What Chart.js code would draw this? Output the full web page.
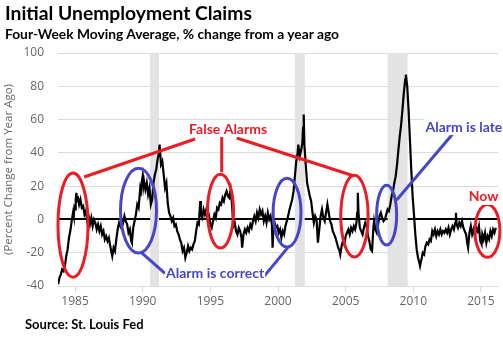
<!DOCTYPE html>
<html>
<head>
  <meta charset="utf-8" />
  <title>Initial Unemployment Claims</title>
  <style>
    body { margin: 0; background: #fff; }
    #wrap { position: relative; width: 503px; height: 341px; overflow: hidden; }
    #chart { position: absolute; left: 0; top: 0; }
    .txt { position: absolute; font-family: Lato, "Open Sans", sans-serif; font-weight: bold; color: #000; white-space: nowrap; }
    .title { left: 5px; top: 1px; font-size: 19.3px; }
    .subtitle { left: 5px; top: 25px; font-size: 13.8px; }
    .source { left: 25px; top: 316px; font-size: 13px; }
  </style>
</head>
<body>
  <div id="wrap">
    <canvas id="chart" width="503" height="341"></canvas>
    <div class="txt title">Initial Unemployment Claims</div>
    <div class="txt subtitle">Four-Week Moving Average, % change from a year ago</div>
    <div class="txt source">Source: St. Louis Fed</div>
  </div>

  <script src="https://cdn.jsdelivr.net/npm/chart.js"></script>
  <script>
    // weeks as decimal years, claims = 4wk avg % change y/y
    const weeks = [
      1983.75,1983.85,1983.95,1984.05,1984.15,1984.25,1984.35,1984.45,1984.55,1984.65,1984.75,1984.85,1984.9,1984.95,1985.0,1985.05,1985.1,1985.15,1985.2,1985.3,
      1985.4,1985.5,1985.6,1985.7,1985.8,1985.9,1986.0,1986.1,1986.2,1986.3,1986.4,1986.5,1986.6,1986.7,1986.8,1986.9,1987.0,1987.1,1987.2,1987.3,
      1987.4,1987.5,1987.6,1987.7,1987.75,1987.85,1987.95,1988.05,1988.15,1988.25,1988.35,1988.45,1988.55,1988.65,1988.75,1988.85,1988.95,1989.05,1989.15,1989.2,
      1989.3,1989.4,1989.5,1989.6,1989.7,1989.8,1989.85,1989.9,1990.0,1990.05,1990.1,1990.2,1990.3,1990.4,1990.5,1990.6,1990.7,1990.8,1990.9,1991.0,
      1991.1,1991.2,1991.25,1991.35,1991.45,1991.55,1991.65,1991.75,1991.85,1991.95,1992.05,1992.15,1992.25,1992.35,1992.45,1992.55,1992.65,1992.75,1992.85,1992.95,
      1993.05,1993.15,1993.25,1993.35,1993.45,1993.55,1993.65,1993.75,1993.85,1993.95,1994.05,1994.15,1994.2,1994.25,1994.3,1994.4,1994.5,1994.6,1994.7,1994.8,
      1994.9,1995.0,1995.1,1995.2,1995.3,1995.4,1995.5,1995.6,1995.7,1995.8,1995.9,1996.0,1996.1,1996.2,1996.3,1996.4,1996.5,1996.6,1996.7,1996.8,
      1996.9,1997.0,1997.1,1997.2,1997.3,1997.35,1997.45,1997.55,1997.65,1997.75,1997.85,1997.95,1998.05,1998.15,1998.25,1998.35,1998.45,1998.55,1998.65,1998.75,
      1998.85,1998.95,1999.05,1999.15,1999.25,1999.35,1999.45,1999.55,1999.6,1999.65,1999.75,1999.85,1999.95,2000.05,2000.15,2000.25,2000.35,2000.45,2000.55,2000.65,
      2000.75,2000.85,2000.95,2001.05,2001.15,2001.25,2001.35,2001.45,2001.5,2001.6,2001.7,2001.8,2001.85,2001.9,2001.95,2002.05,2002.15,2002.25,2002.35,2002.45,
      2002.55,2002.65,2002.75,2002.85,2002.95,2003.05,2003.15,2003.25,2003.35,2003.45,2003.55,2003.65,2003.75,2003.85,2003.95,2004.05,2004.15,2004.25,2004.35,2004.45,
      2004.55,2004.6,2004.7,2004.8,2004.9,2005.0,2005.1,2005.2,2005.3,2005.4,2005.5,2005.6,2005.7,2005.8,2005.85,2005.9,2005.95,2006.05,2006.15,2006.25,
      2006.35,2006.45,2006.55,2006.65,2006.75,2006.85,2006.95,2007.05,2007.1,2007.2,2007.3,2007.4,2007.5,2007.6,2007.7,2007.8,2007.9,2008.0,2008.1,2008.2,
      2008.3,2008.4,2008.5,2008.6,2008.7,2008.8,2008.9,2009.0,2009.1,2009.2,2009.3,2009.4,2009.45,2009.55,2009.65,2009.75,2009.85,2009.95,2010.05,2010.15,
      2010.25,2010.35,2010.45,2010.5,2010.6,2010.7,2010.8,2010.9,2011.0,2011.1,2011.2,2011.3,2011.4,2011.5,2011.6,2011.7,2011.8,2011.9,2012.0,2012.1,
      2012.2,2012.3,2012.4,2012.5,2012.6,2012.7,2012.8,2012.9,2013.0,2013.1,2013.15,2013.2,2013.3,2013.4,2013.5,2013.6,2013.7,2013.8,2013.9,2014.0,
      2014.05,2014.15,2014.25,2014.35,2014.45,2014.55,2014.65,2014.75,2014.85,2014.95,2015.05,2015.1,2015.2,2015.3,2015.4,2015.5,2015.6,2015.7,2015.8,2015.9,
      2016.0,2016.1
    ];
    const claims = [
      -39,-35,-33,-30,-31,-28,-22,-18,-11,-7,-1,4,2,7,6,12,16,11,14,9,
      12,7,8,3,5,-1,2,-3,1,-4,0,-2,-6,-3,-7,-4,-9,-7,-12,-10,
      -13,-11,-16,-20,-22,-17,-19,-12,-6,-2,-4,0,-2,2,-1,-3,-8,-6,-13,-14,
      -5,-1,3,9,7,17,14,21,26,20,23,18,22,15,19,9,12,22,27,30,
      36,40,45,33,35,27,19,22,10,4,2,-1,1,-4,-3,-7,-9,-12,-14,-19,
      -17,-23,-20,-16,-19,-17,-18,-15,-13,-7,-2,-3,4,11,3,1,6,3,6,0,
      2,-3,-5,-1,3,1,7,6,10,9,13,11,15,17,14,13,18,9,-4,-2,
      -7,-9,-5,-7,-11,-17,-9,-6,-8,-5,-7,-3,-5,-1,2,-1,4,1,6,3,
      5,-1,2,-2,4,0,2,-3,-17,-8,-2,-5,-4,-8,-6,-11,-7,-9,-4,-1,
      2,6,9,12,17,26,35,40,45,38,41,46,55,63,45,33,22,18,14,11,
      4,-2,2,0,-14,-6,2,6,1,-1,4,9,4,-1,-3,-7,-9,-11,-14,-17,
      -19,-21,-16,-13,-15,-10,-8,-6,-9,-5,-7,-4,-6,-2,4,16,4,-5,-7,-9,
      -5,-2,-4,-10,-13,-18,-19,-5,-1,-6,-8,-3,2,4,1,-1,0,3,6,5,
      9,14,17,22,26,33,42,50,57,66,76,84,87,80,66,48,30,14,3,-9,
      -18,-23,-26,-28,-24,-20,-21,-16,-14,-15,-12,-13,-7,-9,-6,-10,-7,-9,-6,-9,
      -7,-8,-6,-8,-5,-9,-6,-4,-6,-2,4,-3,-5,-2,-4,-1,-5,-7,-9,-15,
      -17,-8,-4,-9,-6,-10,-5,-7,-4,-13,-15,-9,-12,-8,-14,-10,-12,-7,-10,-6,
      -8,-5
    ];
    const yearTicks = [1985, 1990, 1995, 2000, 2005, 2010, 2015];
    const recessions = [[1990.55, 1991.2], [2001.25, 2001.98], [2008.1, 2009.58]];

    const RED = '#ec1c24';
    const BLUE = '#4646c8';

    // annotations, in data units (year, %)
    const ellipses = [
      { x: 1984.85, y: -3.4, rx: 1.11, ry: 31.3, color: RED },
      { x: 1989.69, y: 5.3, rx: 1.33, ry: 25.5, color: BLUE },
      { x: 1995.75, y: 5.0, rx: 0.96, ry: 22.2, color: RED },
      { x: 2000.67, y: 4.1, rx: 1.03, ry: 20.7, color: BLUE },
      { x: 2005.65, y: 2.0, rx: 1.01, ry: 24.6, color: RED },
      { x: 2008.03, y: 2.6, rx: 0.74, ry: 18.0, color: BLUE },
      { x: 2015.48, y: -6.9, rx: 0.92, ry: 15.9, color: RED }
    ];
    const pointers = [
      { x1: 1993.87, y1: 48.3, x2: 1985.67, y2: 25.5, color: RED },
      { x1: 1995.84, y1: 50.7, x2: 1995.84, y2: 28.4, color: RED },
      { x1: 1996.95, y1: 48.9, x2: 2005.62, y2: 26.1, color: RED },
      { x1: 1989.95, y1: -20.3, x2: 1991.65, y2: -32.4, color: BLUE },
      { x1: 1998.97, y1: -34.2, x2: 2000.74, y2: -16.8, color: BLUE },
      { x1: 2012.91, y1: 51.3, x2: 2008.77, y2: 11.7, color: BLUE }
    ];
    const notes = [
      { text: 'False Alarms', x: 1996.31, y: 54.3, color: RED },
      { text: 'Alarm is correct', x: 1995.35, y: -32.4, color: BLUE },
      { text: 'Alarm is late', x: 2013.74, y: 55.5, color: BLUE },
      { text: 'Now', x: 2015.19, y: 13.5, color: RED }
    ];

    const bandsPlugin = {
      id: 'bands',
      beforeDatasetsDraw(chart) {
        const { ctx, chartArea, scales } = chart;
        ctx.save();
        ctx.fillStyle = '#e3e3e3';
        recessions.forEach(r => {
          const a = scales.x.getPixelForValue(r[0]);
          const b = scales.x.getPixelForValue(r[1]);
          ctx.fillRect(a, chartArea.top, b - a, chartArea.bottom - chartArea.top);
        });
        ctx.restore();
      }
    };

    const notesPlugin = {
      id: 'notes',
      afterDatasetsDraw(chart) {
        const { ctx, scales } = chart;
        const xs = scales.x, ys = scales.y;
        ctx.save();
        ctx.lineWidth = 3;
        ellipses.forEach(e => {
          const cx = xs.getPixelForValue(e.x), cy = ys.getPixelForValue(e.y);
          const rx = xs.getPixelForValue(e.x + e.rx) - cx;
          const ry = cy - ys.getPixelForValue(e.y + e.ry);
          ctx.strokeStyle = e.color;
          ctx.beginPath();
          ctx.ellipse(cx, cy, rx, ry, 0, 0, Math.PI * 2);
          ctx.stroke();
        });
        pointers.forEach(p => {
          ctx.strokeStyle = p.color;
          ctx.beginPath();
          ctx.moveTo(xs.getPixelForValue(p.x1), ys.getPixelForValue(p.y1));
          ctx.lineTo(xs.getPixelForValue(p.x2), ys.getPixelForValue(p.y2));
          ctx.stroke();
        });
        ctx.font = 'bold 14px Lato, "Open Sans", sans-serif';
        ctx.textAlign = 'center';
        ctx.textBaseline = 'middle';
        notes.forEach(n => {
          const tx = xs.getPixelForValue(n.x), ty = ys.getPixelForValue(n.y);
          const w = ctx.measureText(n.text).width;
          ctx.fillStyle = '#fff';
          ctx.fillRect(tx - w / 2 - 1, ty - 8, w + 2, 16);
          ctx.fillStyle = n.color;
          ctx.fillText(n.text, tx, ty);
        });
        ctx.restore();
      }
    };

    const tickFont = { family: '"Open Sans", sans-serif', size: 12 };

    new Chart(document.getElementById('chart'), {
      type: 'line',
      data: {
        datasets: [{
          data: weeks.map((w, i) => ({ x: w, y: claims[i] })),
          borderColor: '#000',
          borderWidth: 2.2,
          pointRadius: 0,
          tension: 0
        }]
      },
      options: {
        responsive: false,
        animation: false,
        layout: { padding: { top: 53, right: 5, left: 0, bottom: 33 } },
        plugins: { legend: { display: false }, tooltip: { enabled: false } },
        scales: {
          x: {
            type: 'linear',
            min: 1983.74,
            max: 2016.26,
            afterBuildTicks: s => { s.ticks = yearTicks.map(v => ({ value: v })); },
            afterFit: s => { s.height = 22; },
            border: { display: false },
            grid: { drawOnChartArea: false, drawTicks: true, tickLength: 6, color: '#d9d9d9' },
            ticks: { color: '#666', font: tickFont, padding: 2, maxRotation: 0, callback: v => String(v) }
          },
          y: {
            min: -40,
            max: 100,
            afterFit: s => { s.width = 58; },
            border: { display: false },
            grid: {
              drawTicks: false,
              color: c => c.tick.value === 0 ? '#000' : '#dcdcdc',
              lineWidth: c => c.tick.value === 0 ? 2 : 1
            },
            ticks: { stepSize: 20, color: '#666', font: tickFont, padding: 14 },
            title: {
              display: true,
              text: '(Percent Change from Year Ago)',
              color: '#666',
              font: { family: '"Open Sans", sans-serif', size: 11.5 },
              padding: 2
            }
          }
        }
      },
      plugins: [bandsPlugin, notesPlugin]
    });
  </script>
</body>
</html>
